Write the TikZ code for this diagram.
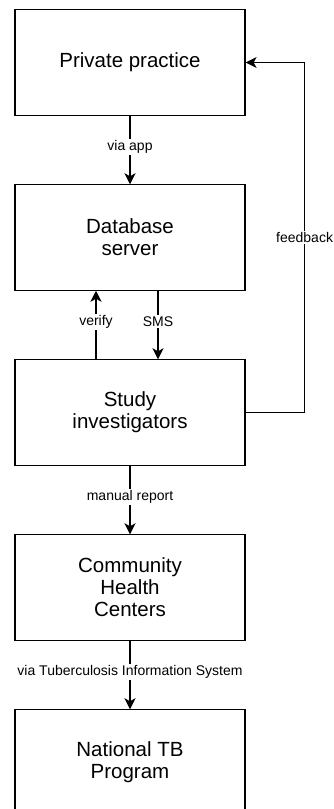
\documentclass[tikz,border=0pt]{standalone}
\usepackage{fontspec}
\setmainfont{Liberation Sans}
\usetikzlibrary{positioning,arrows.meta}

\tikzset{
  block/.style={draw, line width=1.2pt, minimum width=230pt, minimum height=105.3pt,
    align=center, inner sep=0pt, font=\fontsize{20.5}{22}\selectfont},
  lbl/.style={fill=white, inner sep=1.5pt, font=\fontsize{14}{16}\selectfont},
  flow/.style={line width=1.2pt, -{Stealth[length=11pt,width=11pt,inset=3pt]}}
}

\begin{document}
\begin{tikzpicture}[x=1pt, y=-1pt, node distance=68.5pt]

      \clip (0,0) rectangle (334,809);

      \node[block] (practice) at (130,62.5) {Private practice};
      \node[block, below=of practice] (database) {Database\\server};
      \node[block, below=of database] (investigators) {Study\\investigators};
      \node[block, below=of investigators] (chc) {Community\\Health\\Centers};
      \node[block, below=of chc] (ntp) {National TB\\Program};

      \draw[flow] (practice) -- node[lbl, pos=0.45] {via app} (database);
      \draw[flow] ([xshift=-34pt]investigators.north) -- node[lbl, pos=0.55] {verify} ([xshift=-34pt]database.south);
      \draw[flow] ([xshift=28pt]database.south) -- node[lbl, pos=0.45] {SMS} ([xshift=28pt]investigators.north);
      \draw[flow] (investigators.east) -- ++(59,0) |- node[lbl, pos=0.25] {feedback} (practice.east);
      \draw[flow] (investigators) -- node[lbl, pos=0.45] {manual report} (chc);
      \draw[flow] (chc) -- node[lbl, pos=0.45] {via Tuberculosis Information System} (ntp);

    \end{tikzpicture}
\end{document}
